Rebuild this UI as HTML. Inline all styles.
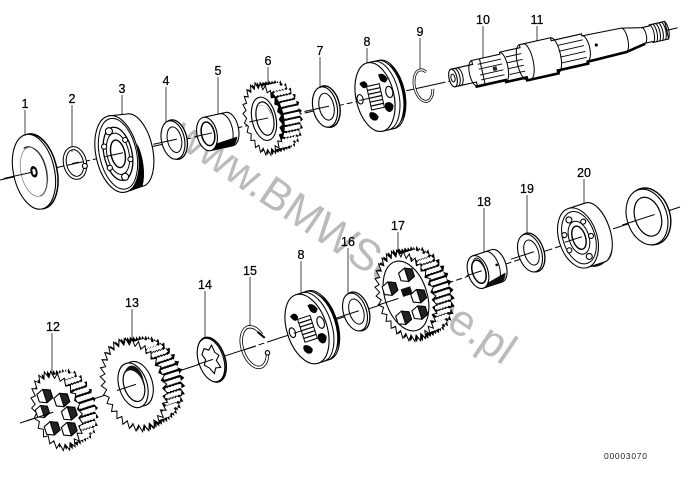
<!DOCTYPE html>
<html><head><meta charset="utf-8"><title>Gearbox shaft parts diagram</title>
<style>
html,body{margin:0;padding:0;background:#fff}
svg{display:block}
.lb{font:12.5px "Liberation Sans",sans-serif;fill:#000;text-anchor:middle;stroke:#000;stroke-width:.25}
.k{fill:#fff;stroke:#000;stroke-width:1.1}
.n{fill:none;stroke:#000;stroke-width:1}
.d{fill:#000;stroke:#000;stroke-width:.6}
.sl{fill:none;stroke:#fff}
</style></head><body>
<svg xmlns="http://www.w3.org/2000/svg" width="686" height="484" viewBox="0 0 686 484">
<defs>
<polygon id="st" stroke="#000" stroke-width="1" vector-effect="non-scaling-stroke" points="1,0 .856,.084 .981,.195 .823,.25 .924,.383 .758,.405 .831,.556 .665,.546 .707,.707 .546,.665 .556,.831 .405,.758 .383,.924 .25,.823 .195,.981 .084,.856 0,1 -.084,.856 -.195,.981 -.25,.823 -.383,.924 -.405,.758 -.556,.831 -.546,.665 -.707,.707 -.665,.546 -.831,.556 -.758,.405 -.924,.383 -.823,.25 -.981,.195 -.856,.084 -1,0 -.856,-.084 -.981,-.195 -.823,-.25 -.924,-.383 -.758,-.405 -.831,-.556 -.665,-.546 -.707,-.707 -.546,-.665 -.556,-.831 -.405,-.758 -.383,-.924 -.25,-.823 -.195,-.981 -.084,-.856 0,-1 .084,-.856 .195,-.981 .25,-.823 .383,-.924 .405,-.758 .556,-.831 .546,-.665 .707,-.707 .665,-.546 .831,-.556 .758,-.405 .924,-.383 .823,-.25 .981,-.195 .856,-.084"/>
<polygon id="st24" stroke="#000" stroke-width="1" vector-effect="non-scaling-stroke" points="1,0 .833,.11 .966,.259 .776,.322 .866,.5 .666,.511 .707,.707 .511,.666 .5,.866 .322,.776 .259,.966 .11,.833 0,1 -.11,.833 -.259,.966 -.322,.776 -.5,.866 -.511,.666 -.707,.707 -.666,.511 -.866,.5 -.776,.322 -.966,.259 -.833,.11 -1,0 -.833,-.11 -.966,-.259 -.776,-.322 -.866,-.5 -.666,-.511 -.707,-.707 -.511,-.666 -.5,-.866 -.322,-.776 -.259,-.966 -.11,-.833 0,-1 .11,-.833 .259,-.966 .322,-.776 .5,-.866 .511,-.666 .707,-.707 .666,-.511 .866,-.5 .776,-.322 .966,-.259 .833,-.11"/>
<g id="washer">
<ellipse cx="2" cy="0" rx="12" ry="20" fill="#fff" stroke="#000" stroke-width="1.3"/>
<ellipse cx="0" cy="0" rx="11.5" ry="19.5" class="k"/>
<ellipse cx="1.5" cy="0" rx="7" ry="13" fill="#fff" stroke="#000" stroke-width="1"/>
<line x1="-20" y1="0" x2="4" y2="0" stroke="#000"/>
</g>
<g id="hexb">
<polygon points="-7,-4 0,-7 7,-4 7,4 0,7 -7,4" class="k"/>
<polygon points="0,-7 7,-4 7,4 0,7" fill="#222" stroke="#000"/>
</g>
<g id="holes">
<path d="M-12,-17 q6,-4 7,3 q-4,6 -7,-3z" class="d"/>
<path d="M8,-22 q5,-2 8,6 q-3,6 -7,0z" class="d"/>
<path d="M9,9 q5,-2 7,4 q-2,7 -6,5 q-4,-4 -1,-9z" class="d"/>
<path d="M-8,15 q5,0 7,6 q-2,5 -6,2 q-4,-4 -1,-8z" class="d"/>
<ellipse cx="15" cy="-2" rx="3.5" ry="6" class="k"/>
<ellipse cx="-15" cy="-1" rx="3" ry="5" class="k"/>
</g>
</defs>

<!-- watermark -->
<text transform="translate(170,141) rotate(34)" x="0" y="0" font-family="Liberation Sans,sans-serif" font-size="44" fill="#bbbbbb" textLength="402" lengthAdjust="spacingAndGlyphs">www.BMWService.pl</text>

<!-- axes -->
<path d="M0,180 L455,80" stroke="#000" stroke-width="1" stroke-dasharray="40 3 6 3" fill="none"/>
<path d="M20,423 L680,207" stroke="#000" stroke-width="1" stroke-dasharray="40 3 6 3" fill="none"/>

<!-- leaders -->
<g stroke="#444" stroke-width="1">
<path d="M25,110V136M72,105V152M122,95V120M166,87V124M218,77V116M268,67V88M320,57V88M367,48V67M420,38V70M483,26V60M537,26V45M52,333V378M132,309V348M205,291V340M250,277V328M301,261V297M348,248V295M398,232V255M484,208V253M527,195V236M584,179V207"/>
</g>

<!-- UPPER SHAFT -->
<!-- 1 -->
<g transform="translate(33,172) rotate(-12.4)">
<ellipse cx="3" rx="21" ry="38" fill="#fff" stroke="#000" stroke-width="1.5"/>
<ellipse cx="1" rx="20.5" ry="38" class="k"/>
<path d="M-4,-25 A14,26 0 0 1 13,6 A12,24 0 0 1 2,25" class="n" stroke-width="1.2"/>
<ellipse cx="1" rx="13" ry="25" fill="none" stroke="#777" stroke-width=".7"/>
<ellipse cx="1" rx="3.2" ry="5.5" class="d"/>
<ellipse cx="1" rx="1.8" ry="3.2" fill="#fff" stroke="#555" stroke-width=".6"/>
<line x1="-30" x2="0" y1="0" y2="0" stroke="#000"/>
</g>
<!-- 2 -->
<g transform="translate(75,163) rotate(-12.4)">
<ellipse cx="0" rx="10" ry="15" fill="none" stroke="#000" stroke-width="4"/>
<ellipse cx="0" rx="10" ry="15" fill="none" stroke="#fff" stroke-width="2"/>
<circle cx="9" cy="5" r="2.5" class="k"/>
<line x1="-3" x2="4" stroke="#000"/>
</g>
<!-- 3 bearing -->
<g transform="translate(117,154) rotate(-12.4)">
<path d="M0,-39 L18,-37 A18,37 0 0 1 18,37 L0,39Z" class="k"/>
<path d="M22,-6 A18,37 0 0 1 18,37 L5,39 A22,39 0 0 0 20,8Z" fill="#000"/>
<ellipse cx="0" rx="21" ry="39" class="k"/>
<ellipse cx="1" rx="18.5" ry="36" class="n"/>
<ellipse cx="1" rx="14" ry="27" fill="#fff" stroke="#000" stroke-width="1.3"/>
<ellipse cx="1" rx="11" ry="21" fill="#fff" stroke="#000"/>
<ellipse cx="1" rx="7" ry="14" fill="#fff" stroke="#000" stroke-width="1.4"/>
<circle cx="-3" cy="-24" r="3.5" class="k"/><circle cx="-11" cy="-10" r="2.6" class="k"/><circle cx="-10" cy="12" r="2.6" class="k"/><circle cx="3" cy="24" r="3.5" class="k"/><circle cx="12" cy="8" r="2.5" class="k"/><circle cx="11" cy="-12" r="2.5" class="k"/>
<line x1="-12" x2="6" stroke="#000"/>
</g>
<!-- 4 -->
<use href="#washer" transform="translate(173,140) rotate(-12.4)"/>
<!-- 5 sleeve -->
<g transform="translate(207,134) rotate(-12.4)">
<path d="M0,-17 L23,-17 A9,17 0 0 1 23,17 L0,17Z" class="k"/>
<path d="M0,12 L29,9 A9,17 0 0 1 23,17 L0,17Z" fill="#000"/>
<path d="M17,-17 A9,17 0 0 1 17,17" class="n"/>
<ellipse rx="10" ry="17" class="k"/>
<ellipse cx="1" rx="6.5" ry="12" fill="#fff" stroke="#000" stroke-width="1.5"/>
<path d="M-3,-9 A6,12 0 0 1 7,5 A5,10 0 0 0 -3,-9" fill="#222"/>
<line x1="-12" x2="5" stroke="#000"/>
</g>
<!-- 6 gear -->
<g transform="translate(263,119) rotate(-12.4)">
<use href="#st24" fill="#000" transform="translate(20 0) scale(19 34)"/>
<use href="#st24" fill="#000" transform="translate(17 0) scale(19 34)"/>
<use href="#st24" fill="#000" transform="translate(14 0) scale(19 35)"/>
<use href="#st24" fill="#000" transform="translate(11 0) scale(19 35)"/>
<use href="#st24" fill="#000" transform="translate(8 0) scale(19 35)"/>
<use href="#st24" fill="#000" transform="translate(5 0) scale(19 36)"/>
<use href="#st24" fill="#000" transform="translate(2 0) scale(19 36)"/>
<g class="sl" stroke-width="4" stroke-dasharray="2.8 1.37" stroke-dashoffset="-.3">
<ellipse cx="19" rx="16" ry="30.5" pathLength="100"/><ellipse cx="16" rx="16" ry="30.5" pathLength="100"/><ellipse cx="13" rx="16" ry="30.5" pathLength="100"/><ellipse cx="10" rx="16" ry="30.5" pathLength="100"/><ellipse cx="7" rx="16" ry="30.5" pathLength="100"/>
</g>
<use href="#st24" fill="#fff" transform="scale(19 37)"/>
<ellipse cx="1" rx="12" ry="22" class="k" stroke-width="1.4"/>
<ellipse cx="2" rx="8.5" ry="17" fill="#fff" stroke="#000" stroke-width="1.2"/>
<path d="M-3,-12 A8,15 0 0 1 9,0 A8,12 0 0 0 -3,-12" fill="#333"/>
<line x1="-14" x2="5" stroke="#000"/>
</g>
<!-- 7 -->
<g transform="translate(325,107) rotate(-12.4) scale(1.05 1.05)"><use href="#washer"/></g>
<!-- 8 -->
<g transform="translate(375,97) rotate(-12.4)">
<path d="M0,-35 L12,-35 A18,35 0 0 1 12,35 L0,35Z" class="k"/>
<path d="M6,-35 A18,35 0 0 1 6,35 M10,-35 A18,35 0 0 1 10,35" class="n" stroke-width="1.2"/>
<path d="M16,-33 A18,35 0 0 1 16,33 A22,35 0 0 0 16,-33" fill="#000"/>
<ellipse rx="19" ry="35" class="k"/>
<use href="#holes" transform="scale(1 .95)"/>
<rect x="-6" y="-12" width="13" height="24" fill="#fff" stroke="#000"/>
<path d="M-6,-8H7M-6,-4H7M-6,0H7M-6,4H7M-6,8H7" stroke="#000" stroke-width="1.2"/>
<line x1="-16" x2="-4" stroke="#000"/>
</g>
<!-- 9 ring -->
<g transform="translate(423,86) rotate(-12.4)">
<path d="M6,-13 A9,16 0 1 0 9,5" fill="none" stroke="#000" stroke-width="2.8"/>
<path d="M6,-13 A9,16 0 1 0 9,5" fill="none" stroke="#fff" stroke-width="1.3"/>
</g>

<!-- SHAFT -->
<g transform="translate(453,78) rotate(-12.6)">
<path d="M0,-9 H22 V-13 H51 V-15 H72 V-18 H104 V-15 H135 V-13 L175,-12 L195,-8 H203 V-9 H219 V9 H203 V8 H195 L175,12 L135,13 V15 H104 V18 H72 V15 H51 V13 H22 V9 H0Z" class="k"/>
<path d="M20,13.5 H51 V15.5 H72 V18.5 H104 V15.5 H135 V13.5 L175,12.5 L195,8.5" fill="none" stroke="#000" stroke-width="2.6"/>
<ellipse cx="0" rx="4" ry="9" class="k" stroke-width="1.4"/>
<ellipse cx="0" rx="2" ry="4" class="n"/>
<path d="M3,-9 A4,9 0 0 1 3,9 M6,-9 A4,9 0 0 1 6,9" class="n" stroke-width=".8"/>
<path d="M22,-13 A5,13 0 0 0 22,13" class="n" stroke-width="1.1"/>
<path d="M27,-8H51M27,-3H51M27,3H51M27,8H51" stroke="#000" stroke-width=".9"/>
<path d="M30,-13V13" stroke="#000"/>
<path d="M41,-2h4v4h-4z" fill="#222"/>
<path d="M51,-15 A5,15 0 0 1 51,15" class="n"/>
<path d="M56,-9H72M56,-3H72M56,3H72M56,9H72" stroke="#000" stroke-width=".9"/>
<path d="M72,-18 A6,18 0 0 0 72,18" class="n"/>
<path d="M76,-18 A6,18 0 0 1 76,18" class="n"/>
<path d="M104,-18 A6,18 0 0 1 104,18" class="n"/>
<path d="M109,-9H135M109,-3H135M109,3H135M109,9H135" stroke="#000" stroke-width=".9"/>
<path d="M135,-13 A5,13 0 0 1 135,13" class="n"/>
<circle cx="147" cy="-1" r="1.6" fill="#000"/>
<path d="M175,-12 A4,12 0 0 1 175,12 M195,-8 A3,8 0 0 1 195,8" class="n"/>
<path d="M203,-9 A3,9 0 0 1 203,9 M206,-9 A3,9 0 0 1 206,9 M209,-9 A3,9 0 0 1 209,9 M212,-9 A3,9 0 0 1 212,9 M215,-9 A3,9 0 0 1 215,9 M218,-9 A3,9 0 0 1 218,9" class="n"/>
<line x1="219" x2="230" stroke="#000"/>
</g>

<!-- LOWER SHAFT -->
<!-- 12 -->
<g transform="translate(57,411) rotate(-18)">
<use href="#st24" fill="#000" transform="translate(18 0) scale(22 37)"/>
<use href="#st24" fill="#000" transform="translate(15 0) scale(22 37)"/>
<use href="#st24" fill="#000" transform="translate(12 0) scale(23 38)"/>
<use href="#st24" fill="#000" transform="translate(9 0) scale(23 38)"/>
<use href="#st24" fill="#000" transform="translate(6 0) scale(23 39)"/>
<use href="#st24" fill="#000" transform="translate(3 0) scale(23 40)"/>
<g class="sl" stroke-width="4" stroke-dasharray="2.8 1.37" stroke-dashoffset="-.3">
<ellipse cx="17" rx="19" ry="33.5" pathLength="100"/><ellipse cx="14" rx="19" ry="33.5" pathLength="100"/><ellipse cx="11" rx="19" ry="33.5" pathLength="100"/><ellipse cx="8" rx="19" ry="33.5" pathLength="100"/><ellipse cx="5" rx="19" ry="33.5" pathLength="100"/>
</g>
<use href="#st24" fill="#fff" transform="scale(24 41)"/>
<use href="#hexb" transform="translate(-7 -18)"/>
<use href="#hexb" transform="translate(-14 -4) scale(.9)"/>
<use href="#hexb" transform="translate(8 -9)"/>
<use href="#hexb" transform="translate(11 6)"/>
<use href="#hexb" transform="translate(-10 15)"/>
<use href="#hexb" transform="translate(6 21)"/>
<line x1="-32" x2="-4" stroke="#000"/>
</g>
<!-- 13 -->
<g transform="translate(134,385) rotate(-18)">
<use href="#st" fill="#000" transform="translate(20 0) scale(30 43)"/>
<use href="#st" fill="#000" transform="translate(17 0) scale(30 44)"/>
<use href="#st" fill="#000" transform="translate(14 0) scale(31 45)"/>
<use href="#st" fill="#000" transform="translate(11 0) scale(31 45)"/>
<use href="#st" fill="#000" transform="translate(8 0) scale(31 46)"/>
<use href="#st" fill="#000" transform="translate(5 0) scale(31 47)"/>
<use href="#st" fill="#000" transform="translate(2 0) scale(32 47)"/>
<g class="sl" stroke-width="4.5" stroke-dasharray="2 1.13" stroke-dashoffset="-.2">
<ellipse cx="19" rx="25.5" ry="39" pathLength="100"/><ellipse cx="16" rx="25.5" ry="39" pathLength="100"/><ellipse cx="13" rx="25.5" ry="39" pathLength="100"/><ellipse cx="10" rx="25.5" ry="39" pathLength="100"/><ellipse cx="7" rx="25.5" ry="39" pathLength="100"/>
</g>
<use href="#st" fill="#fff" transform="scale(32 48)"/>
<ellipse cx="4" rx="14.5" ry="23" class="k" stroke-width="1.2"/>
<ellipse cx="-1" rx="14" ry="23" class="k" stroke-width="1.2"/>
<ellipse cx="0" rx="10" ry="17" fill="#fff" stroke="#000" stroke-width="1.2"/>
<path d="M-5,-14 A10,16 0 0 1 9,3 A7,11 0 0 0 -5,-14" fill="#111"/>
<line x1="-18" x2="2" stroke="#000"/>
</g>
<!-- 14 -->
<g transform="translate(211,360) rotate(-18)">
<ellipse cx="1" rx="13" ry="23" fill="#fff" stroke="#000" stroke-width="1.6"/>
<ellipse cx="0" rx="12.5" ry="22.5" class="k"/>
<polygon points="-3,-13 1,-10 5,-14 6,-6 9,-2 5,2 7,10 2,9 -1,14 -4,7 -8,3 -5,-2 -7,-8" class="k"/>
<line x1="-14" x2="2" stroke="#000"/>
</g>
<!-- 15 -->
<g transform="translate(253,347) rotate(-18)">
<path d="M12,-9 A12,21 0 1 0 12,10" fill="none" stroke="#000" stroke-width="3.4"/>
<path d="M12,-9 A12,21 0 1 0 12,10" fill="none" stroke="#fff" stroke-width="1.8"/>
<circle cx="12" cy="10" r="2.2" class="k"/>
<path d="M9,-13 L14,-5" stroke="#000" stroke-width="2"/>
<line x1="-12" x2="3" stroke="#000"/>
</g>
<!-- 8b -->
<g transform="translate(307,329) rotate(-18)">
<path d="M0,-36 L12,-36 A19,36 0 0 1 12,36 L0,36Z" class="k"/>
<path d="M6,-36 A19,36 0 0 1 6,36 M10,-36 A19,36 0 0 1 10,36" class="n" stroke-width="1.2"/>
<path d="M16,-34 A19,36 0 0 1 16,34 A23,36 0 0 0 16,-34" fill="#000"/>
<ellipse rx="20" ry="36" class="k"/>
<use href="#holes"/>
<rect x="-6" y="-12" width="13" height="24" fill="#fff" stroke="#000"/>
<path d="M-6,-8H7M-6,-4H7M-6,0H7M-6,4H7M-6,8H7" stroke="#000" stroke-width="1.2"/>
<line x1="-14" x2="-5" stroke="#000"/>
</g>
<!-- 16 -->
<use href="#washer" transform="translate(355,312) rotate(-18)"/>
<!-- 17 -->
<g transform="translate(406,296) rotate(-18)">
<use href="#st" fill="#000" transform="translate(20 0) scale(27 44)"/>
<use href="#st" fill="#000" transform="translate(17 0) scale(27 44)"/>
<use href="#st" fill="#000" transform="translate(14 0) scale(28 45)"/>
<use href="#st" fill="#000" transform="translate(11 0) scale(28 45)"/>
<use href="#st" fill="#000" transform="translate(8 0) scale(28 46)"/>
<use href="#st" fill="#000" transform="translate(5 0) scale(28 46)"/>
<use href="#st" fill="#000" transform="translate(2 0) scale(29 47)"/>
<g class="sl" stroke-width="4.5" stroke-dasharray="2 1.13" stroke-dashoffset="-.2">
<ellipse cx="19" rx="22.5" ry="39.5" pathLength="100"/><ellipse cx="16" rx="22.5" ry="39.5" pathLength="100"/><ellipse cx="13" rx="22.5" ry="39.5" pathLength="100"/><ellipse cx="10" rx="22.5" ry="39.5" pathLength="100"/><ellipse cx="7" rx="22.5" ry="39.5" pathLength="100"/>
</g>
<use href="#st" fill="#fff" transform="scale(29 47)"/>
<ellipse rx="21" ry="36" class="k" stroke-width="1.3"/>
<use href="#hexb" transform="translate(-13 -12)"/>
<use href="#hexb" transform="translate(7 -20)"/>
<use href="#hexb" transform="translate(12 4)"/>
<use href="#hexb" transform="translate(-9 20)"/>
<use href="#hexb" transform="translate(8 20)"/>
<path d="M-3,-8 h10 v8 h-10z" fill="#111"/>
<line x1="-30" x2="-8" stroke="#000"/>
</g>
<!-- 18 -->
<g transform="translate(478,272) rotate(-18)">
<path d="M0,-17 L20,-17 A9,17 0 0 1 20,17 L0,17Z" class="k"/>
<path d="M2,14 L26,9 A9,17 0 0 1 20,17 L0,17Z" fill="#111"/>
<path d="M13,-17 A9,17 0 0 1 13,17" class="n"/>
<circle cx="20" cy="-1" r="1.3" fill="#000"/>
<ellipse rx="10" ry="17" class="k"/>
<ellipse cx="1" rx="6.5" ry="12" fill="#fff" stroke="#000" stroke-width="1.5"/>
<path d="M-3,-9 A6,12 0 0 1 7,4 A5,10 0 0 0 -3,-9" fill="#111"/>
<line x1="-12" x2="4" stroke="#000"/>
</g>
<!-- 19 -->
<use href="#washer" transform="translate(530,253) rotate(-18)"/>
<!-- 20 -->
<g transform="translate(578,238) rotate(-18)">
<path d="M0,-31 L18,-31 A15,31 0 0 1 18,31 L0,31Z" class="k"/>
<path d="M3,31 L18,31 A15,31 0 0 0 33,2 A22,31 0 0 1 3,31Z" fill="#111"/>
<ellipse rx="19" ry="31" class="k"/>
<ellipse cx="1" rx="16" ry="27" class="n"/>
<ellipse cx="1" rx="10" ry="17" fill="#fff" stroke="#000"/>
<ellipse cx="1" rx="6.5" ry="12" fill="#fff" stroke="#000" stroke-width="1.4"/>
<circle cx="-3" cy="-20" r="3" class="k"/><circle cx="10" cy="-14" r="2.5" class="k"/><circle cx="13" cy="2" r="2.5" class="k"/><circle cx="5" cy="21" r="3" class="k"/><circle cx="-12" cy="9" r="2.5" class="k"/><circle cx="-12" cy="-7" r="2.5" class="k"/>
<line x1="-14" x2="4" stroke="#000"/>
</g>
<!-- right ring -->
<g transform="translate(647,217) rotate(-18)">
<ellipse cx="2" rx="21" ry="29" fill="#fff" stroke="#000" stroke-width="1.4"/>
<ellipse rx="20" ry="28.5" class="k"/>
<ellipse cx="1" rx="13" ry="20" fill="#fff" stroke="#000" stroke-width="1.2"/>
<path d="M-26,0H8" stroke="#000"/>
</g>

<!-- labels -->
<text class="lb" x="25" y="108">1</text><text class="lb" x="72" y="103">2</text><text class="lb" x="122" y="93">3</text><text class="lb" x="166" y="85">4</text><text class="lb" x="218" y="75">5</text><text class="lb" x="268" y="65">6</text><text class="lb" x="320" y="55">7</text><text class="lb" x="367" y="46">8</text><text class="lb" x="420" y="36">9</text><text class="lb" x="483" y="24">10</text><text class="lb" x="537" y="24">11</text>
<text class="lb" x="53" y="331">12</text><text class="lb" x="132" y="307">13</text><text class="lb" x="205" y="289">14</text><text class="lb" x="250" y="275">15</text><text class="lb" x="301" y="259">8</text><text class="lb" x="348" y="246">16</text><text class="lb" x="398" y="230">17</text><text class="lb" x="484" y="206">18</text><text class="lb" x="527" y="193">19</text><text class="lb" x="584" y="177">20</text>
<text x="604" y="459" font-family="Liberation Sans,sans-serif" font-size="8.5" fill="#222" textLength="43">00003070</text>
</svg>
</body></html>
